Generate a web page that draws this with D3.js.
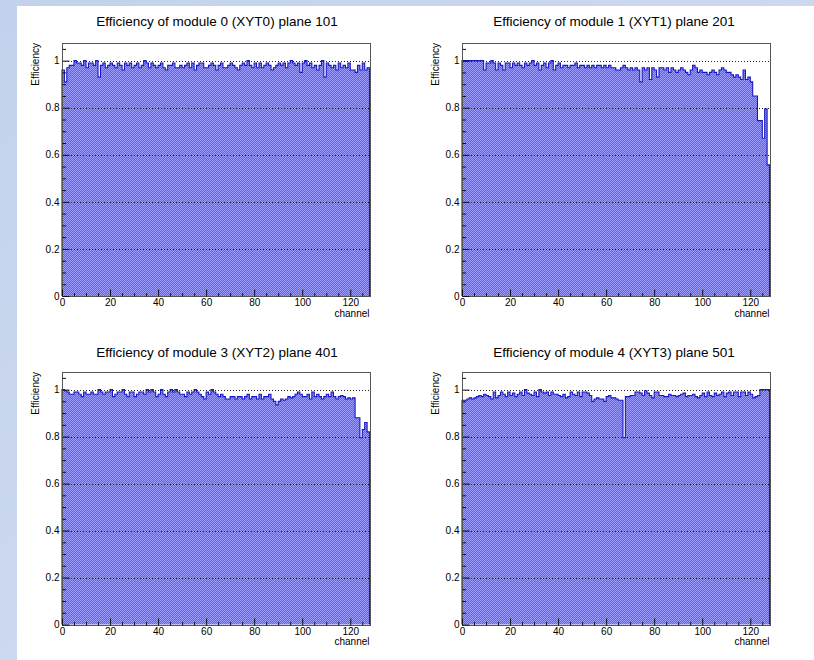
<!DOCTYPE html>
<html>
<head>
<meta charset="utf-8">
<script src="https://cdn.jsdelivr.net/npm/d3@7/dist/d3.min.js"></script>
<style>
  html, body { margin: 0; padding: 0; background: #ffffff; }
  svg { display: block; }
  text { font-family: "Liberation Sans", Arial, Helvetica, sans-serif; }
</style>
</head>
<body>
<svg id="canvas" width="814" height="660"></svg>
<script>
// ---- data: per-channel efficiency, 128 channels per module ----
const nChannels = 128;

const effModule0 = [
  0.96, 0.91, 0.97, 0.98, 0.98, 1.00, 0.99, 0.99, 0.98, 1.00,
  0.97, 0.99, 0.99, 0.98, 1.00, 0.93, 0.98, 0.99, 0.97, 0.98,
  0.99, 0.98, 0.97, 0.99, 0.98, 0.96, 0.99, 0.98, 0.99, 0.97,
  0.98, 0.99, 0.97, 0.98, 1.00, 0.99, 0.97, 0.99, 0.98, 0.97,
  0.98, 0.99, 0.97, 0.96, 0.98, 0.98, 0.99, 0.97, 0.97, 0.98,
  0.97, 0.98, 0.99, 0.97, 0.99, 0.96, 0.98, 0.99, 0.99, 0.97,
  0.97, 0.98, 0.99, 0.98, 0.96, 0.98, 0.99, 0.97, 0.97, 0.98,
  0.99, 0.98, 0.97, 0.96, 0.98, 0.99, 0.98, 1.00, 0.98, 0.97,
  0.99, 0.97, 0.99, 0.97, 0.98, 0.99, 0.98, 0.96, 0.97, 0.98,
  0.99, 0.98, 0.99, 0.97, 0.99, 1.00, 0.99, 0.98, 0.99, 0.95,
  0.99, 1.00, 0.98, 0.99, 0.97, 0.98, 0.96, 0.98, 1.00, 0.93,
  0.99, 0.98, 0.97, 0.98, 0.96, 0.99, 0.97, 0.98, 0.97, 0.99,
  0.96, 0.96, 0.95, 0.98, 0.96, 0.99, 0.96, 0.97
];

const effModule1 = [
  1.00, 1.00, 1.00, 1.00, 1.00, 1.00, 1.00, 1.00, 1.00, 0.96,
  0.99, 0.99, 1.00, 0.99, 0.96, 0.99, 0.98, 0.96, 0.99, 0.99,
  0.97, 0.99, 0.98, 0.99, 0.98, 0.97, 0.99, 0.98, 0.99, 1.00,
  0.98, 0.99, 0.96, 0.98, 0.99, 0.97, 0.99, 1.00, 0.96, 0.98,
  0.99, 0.97, 0.98, 0.98, 0.97, 0.98, 0.98, 0.99, 0.97, 0.98,
  0.98, 0.97, 0.98, 0.97, 0.98, 0.97, 0.98, 0.98, 0.97, 0.98,
  0.97, 0.98, 0.97, 0.97, 0.96, 0.96, 0.97, 0.98, 0.97, 0.96,
  0.97, 0.96, 0.97, 0.96, 0.91, 0.97, 0.96, 0.97, 0.92, 0.97,
  0.96, 0.93, 0.97, 0.97, 0.96, 0.97, 0.95, 0.97, 0.96, 0.95,
  0.96, 0.97, 0.96, 0.95, 0.94, 0.96, 0.98, 0.97, 0.95, 0.96,
  0.95, 0.95, 0.94, 0.95, 0.96, 0.95, 0.94, 0.96, 0.97, 0.96,
  0.95, 0.95, 0.94, 0.93, 0.94, 0.93, 0.92, 0.96, 0.92, 0.93,
  0.91, 0.85, 0.85, 0.745, 0.745, 0.67, 0.795, 0.557
];

const effModule3 = [
  1.00, 0.995, 0.99, 0.98, 0.98, 0.99, 0.99, 0.98, 0.97, 0.99,
  0.98, 0.98, 0.99, 0.98, 0.98, 1.00, 0.99, 0.98, 0.99, 0.99,
  1.00, 0.97, 0.98, 0.99, 0.99, 1.00, 0.98, 0.97, 0.99, 0.99,
  0.97, 0.98, 0.99, 0.99, 0.98, 1.00, 0.99, 1.00, 0.99, 0.97,
  0.98, 1.00, 0.98, 0.97, 0.99, 1.00, 0.99, 1.00, 0.99, 0.98,
  0.98, 0.97, 0.99, 0.98, 0.99, 1.00, 0.99, 0.98, 0.97, 0.96,
  0.99, 0.98, 1.00, 0.99, 0.98, 0.97, 0.98, 0.97, 0.96, 0.96,
  0.97, 0.97, 0.96, 0.97, 0.97, 0.96, 0.97, 0.98, 0.96, 0.97,
  0.97, 0.96, 0.98, 0.96, 0.97, 0.97, 0.98, 0.96, 0.95, 0.935,
  0.95, 0.96, 0.955, 0.96, 0.97, 0.965, 0.97, 0.98, 0.99, 0.98,
  0.97, 0.97, 0.98, 0.96, 0.99, 0.97, 0.98, 0.97, 0.96, 0.97,
  0.98, 0.97, 0.99, 0.97, 0.96, 0.97, 0.975, 0.97, 0.96, 0.965,
  0.96, 0.965, 0.88, 0.88, 0.795, 0.83, 0.86, 0.82
];

const effModule4 = [
  0.955, 0.955, 0.96, 0.965, 0.96, 0.965, 0.97, 0.975, 0.97, 0.98,
  0.975, 0.97, 0.96, 0.99, 0.965, 0.975, 0.99, 0.98, 0.97, 0.99,
  0.975, 0.985, 0.97, 0.98, 0.99, 0.975, 1.00, 0.985, 0.98, 0.975,
  0.99, 0.97, 1.00, 0.99, 0.985, 0.99, 0.975, 0.99, 0.98, 0.98,
  0.975, 0.97, 0.98, 0.965, 0.97, 0.99, 0.98, 0.975, 0.99, 0.97,
  0.99, 0.99, 0.985, 0.975, 0.95, 0.96, 0.965, 0.96, 0.96, 0.95,
  0.97, 0.975, 0.965, 0.965, 0.96, 0.955, 0.955, 0.795, 0.97, 0.97,
  0.975, 0.975, 0.99, 0.99, 0.985, 0.975, 0.995, 0.985, 0.975, 0.965,
  0.99, 0.99, 0.975, 0.975, 0.97, 0.97, 0.98, 0.975, 0.975, 0.97,
  0.975, 0.98, 0.985, 0.97, 0.975, 0.975, 0.98, 0.97, 0.965, 0.975,
  0.985, 0.97, 0.99, 0.975, 0.97, 0.985, 0.975, 0.98, 0.99, 0.97,
  0.985, 0.99, 0.975, 0.99, 0.99, 0.97, 0.99, 0.99, 0.975, 0.99,
  0.98, 0.965, 0.97, 0.975, 1.00, 1.00, 1.00, 1.00
];

const panelTitles = [
  "Efficiency of module 0 (XYT0) plane 101",
  "Efficiency of module 1 (XYT1) plane 201",
  "Efficiency of module 3 (XYT2) plane 401",
  "Efficiency of module 4 (XYT3) plane 501"
];

const xMajorTicks = [0, 20, 40, 60, 80, 100, 120];
const xMinorTicks = [5, 10, 15, 25, 30, 35, 45, 50, 55, 65, 70, 75, 85, 90, 95, 105, 110, 115, 125];
const yMajorTicks = [0, 0.2, 0.4, 0.6, 0.8, 1.0];
const yTickLabels = ["0", "0.2", "0.4", "0.6", "0.8", "1"];
const yMinorTicks = [0.05, 0.1, 0.15, 0.25, 0.3, 0.35, 0.45, 0.5, 0.55, 0.65, 0.7, 0.75, 0.85, 0.9, 0.95, 1.05];
const yGridLines = [0.2, 0.4, 0.6, 0.8, 1.0];

const xAxisTitle = "channel";
const yAxisTitle = "Efficiency";
const yMax = 1.075;

// ---- layout ----
const svg = d3.select("#canvas");

const defs = svg.append("defs");
const grad = defs.append("linearGradient").attr("id", "slideBg")
  .attr("x1", 0).attr("y1", 0).attr("x2", 1).attr("y2", 1);
grad.append("stop").attr("offset", "0%").attr("stop-color", "#c3d2ec");
grad.append("stop").attr("offset", "100%").attr("stop-color", "#d4dff2");

// dithered fill used for the histogram bodies
const pat = defs.append("pattern").attr("id", "histFill")
  .attr("width", 2).attr("height", 2).attr("patternUnits", "userSpaceOnUse");
pat.append("rect").attr("width", 2).attr("height", 2).attr("fill", "#6060f3");
pat.append("rect").attr("x", 0).attr("y", 0).attr("width", 1).attr("height", 1).attr("fill", "#9c9cff");
pat.append("rect").attr("x", 1).attr("y", 1).attr("width", 1).attr("height", 1).attr("fill", "#9c9cff");

svg.append("rect").attr("width", 814).attr("height", 660).attr("fill", "url(#slideBg)");
svg.append("rect").attr("x", 17).attr("y", 6).attr("width", 797).attr("height", 654).attr("fill", "#ffffff");

const panels = [
  { values: effModule0, title: panelTitles[0], left: 62, right: 369.5, top: 43, bottom: 296, titleX: 217, titleY: 26 },
  { values: effModule1, title: panelTitles[1], left: 462, right: 769.5, top: 43, bottom: 296, titleX: 614, titleY: 26 },
  { values: effModule3, title: panelTitles[2], left: 62, right: 369.5, top: 372, bottom: 624.5, titleX: 217, titleY: 357 },
  { values: effModule4, title: panelTitles[3], left: 462, right: 769.5, top: 372, bottom: 624.5, titleX: 614, titleY: 357 }
];

function drawPanel(p) {
  const g = svg.append("g");
  const x = d3.scaleLinear().domain([0, nChannels]).range([p.left, p.right]);
  const y = d3.scaleLinear().domain([0, yMax]).range([p.bottom, p.top]);

  // step outline of the histogram, closed down to zero at both ends
  const steps = [[0, 0]];
  p.values.forEach((v, i) => { steps.push([i, v]); steps.push([i + 1, v]); });
  steps.push([nChannels, 0]);
  const line = d3.line().x(d => x(d[0])).y(d => y(d[1]));

  g.append("path").attr("d", line(steps) + "Z")
    .attr("fill", "url(#histFill)").attr("stroke", "none");
  g.append("path").attr("d", line(steps))
    .attr("fill", "none").attr("stroke", "#1717c4").attr("stroke-width", 1.1);

  // dotted horizontal grid
  g.selectAll("line.grid").data(yGridLines).enter().append("line")
    .attr("class", "grid")
    .attr("x1", p.left).attr("x2", p.right)
    .attr("y1", d => Math.round(y(d)) + 0.5).attr("y2", d => Math.round(y(d)) + 0.5)
    .attr("stroke", "#222").attr("stroke-width", 1).attr("stroke-dasharray", "1,2");

  // frame
  g.append("rect")
    .attr("x", Math.round(p.left) + 0.5).attr("y", Math.round(p.top) + 0.5)
    .attr("width", Math.round(p.right) - Math.round(p.left))
    .attr("height", Math.round(p.bottom) - Math.round(p.top))
    .attr("fill", "none").attr("stroke", "#555").attr("stroke-width", 1);

  // x axis: ticks drawn inside the frame
  const xAxis = g.append("g").attr("transform", `translate(0,${Math.round(p.bottom) + 0.5})`)
    .call(d3.axisBottom(x).tickValues(xMajorTicks).tickSize(-7).tickPadding(2).tickFormat(d3.format("d")));
  const xMinor = g.append("g").attr("transform", `translate(0,${Math.round(p.bottom) + 0.5})`)
    .call(d3.axisBottom(x).tickValues(xMinorTicks).tickSize(-3.5).tickFormat(""));

  const yAxis = g.append("g").attr("transform", `translate(${Math.round(p.left) + 0.5},0)`)
    .call(d3.axisLeft(y).tickValues(yMajorTicks).tickSize(-7).tickPadding(3)
      .tickFormat((d, i) => yTickLabels[i]));
  const yMinor = g.append("g").attr("transform", `translate(${Math.round(p.left) + 0.5},0)`)
    .call(d3.axisLeft(y).tickValues(yMinorTicks).tickSize(-3.5).tickFormat(""));

  [xAxis, xMinor, yAxis, yMinor].forEach(a => {
    a.select(".domain").remove();
    a.selectAll(".tick line").attr("stroke", "#111");
    a.selectAll("text").attr("font-size", 10).attr("fill", "#000")
      .attr("font-family", "'Liberation Sans', Arial, Helvetica, sans-serif");
  });

  // axis titles
  g.append("text").attr("x", p.right).attr("y", p.bottom + 20.5)
    .attr("text-anchor", "end").attr("font-size", 10).text(xAxisTitle);
  g.append("text")
    .attr("transform", `translate(${p.left - 23},${p.top}) rotate(-90)`)
    .attr("text-anchor", "end").attr("font-size", 10).text(yAxisTitle);

  // panel title
  g.append("text").attr("x", p.titleX).attr("y", p.titleY)
    .attr("text-anchor", "middle").attr("font-size", 13.5).text(p.title);
}

panels.forEach(drawPanel);
</script>
</body>
</html>
